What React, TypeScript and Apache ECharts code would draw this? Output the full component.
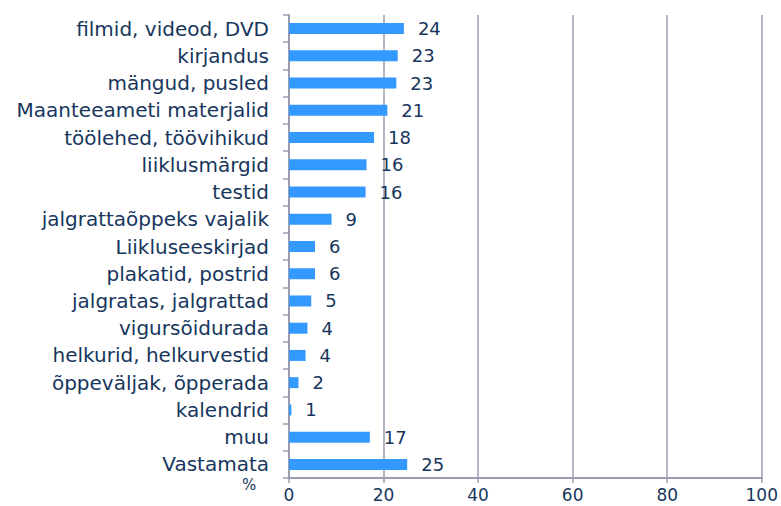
import React, { useEffect, useRef } from "react";
import * as echarts from "echarts";

const categories = [
  "filmid, videod, DVD",
  "kirjandus",
  "mängud, pusled",
  "Maanteeameti materjalid",
  "töölehed, töövihikud",
  "liiklusmärgid",
  "testid",
  "jalgrattaõppeks vajalik",
  "Liikluseeskirjad",
  "plakatid, postrid",
  "jalgratas, jalgrattad",
  "vigursõidurada",
  "helkurid, helkurvestid",
  "õppeväljak, õpperada",
  "kalendrid",
  "muu",
  "Vastamata",
];
const values = [24.3, 23.0, 22.7, 20.8, 18.0, 16.4, 16.2, 9.0, 5.5, 5.5, 4.7, 3.9, 3.5, 2.0, 0.5, 17.1, 25.0];
const labels = [24, 23, 23, 21, 18, 16, 16, 9, 6, 6, 5, 4, 4, 2, 1, 17, 25];
const xTicks = { min: 0, max: 100, interval: 20 };
const unitLabel = "%";

const TEXT = "#17365D";
const AXIS = "#9A9DB0";
const FONT = "Verdana, 'DejaVu Sans', sans-serif";

export default function App() {
  const ref = useRef<HTMLDivElement>(null);
  useEffect(() => {
    if (!ref.current) return;
    const chart = echarts.init(ref.current, null, { renderer: "svg" });
    chart.setOption({
      animation: false,
      backgroundColor: "#ffffff",
      grid: { left: 289, right: 19, top: 15, bottom: 28, containLabel: false },
      xAxis: {
        type: "value",
        min: xTicks.min,
        max: xTicks.max,
        interval: xTicks.interval,
        axisLine: { show: true, lineStyle: { color: AXIS, width: 2 } },
        axisTick: { show: true, length: 5, lineStyle: { color: AXIS, width: 1.5 } },
        axisLabel: { color: TEXT, fontSize: 17, fontFamily: FONT, margin: 8 },
        splitLine: { show: true, lineStyle: { color: AXIS, width: 1.5 } },
      },
      yAxis: {
        type: "category",
        inverse: true,
        data: categories,
        axisLine: { show: true, lineStyle: { color: AXIS, width: 2 } },
        axisTick: { show: true, length: 6, alignWithLabel: false, lineStyle: { color: AXIS, width: 1.5 } },
        axisLabel: { color: TEXT, fontSize: 20, fontFamily: FONT, margin: 20 },
      },
      graphic: [
        {
          type: "text",
          left: 242,
          top: 477,
          style: { text: unitLabel, fill: TEXT, fontSize: 15, fontFamily: FONT },
        },
      ],
      series: [
        {
          type: "bar",
          data: values,
          barWidth: 11,
          itemStyle: { color: "#3399FF" },
          label: {
            show: true,
            position: "right",
            distance: 14,
            color: TEXT,
            fontSize: 18,
            fontFamily: FONT,
            formatter: (p: any) => String(labels[p.dataIndex]),
          },
        },
      ],
    });
    return () => chart.dispose();
  }, []);
  return (
    <div
      ref={ref}
      style={{ position: "fixed", left: 0, top: 0, width: 781, height: 506 }}
    />
  );
}
